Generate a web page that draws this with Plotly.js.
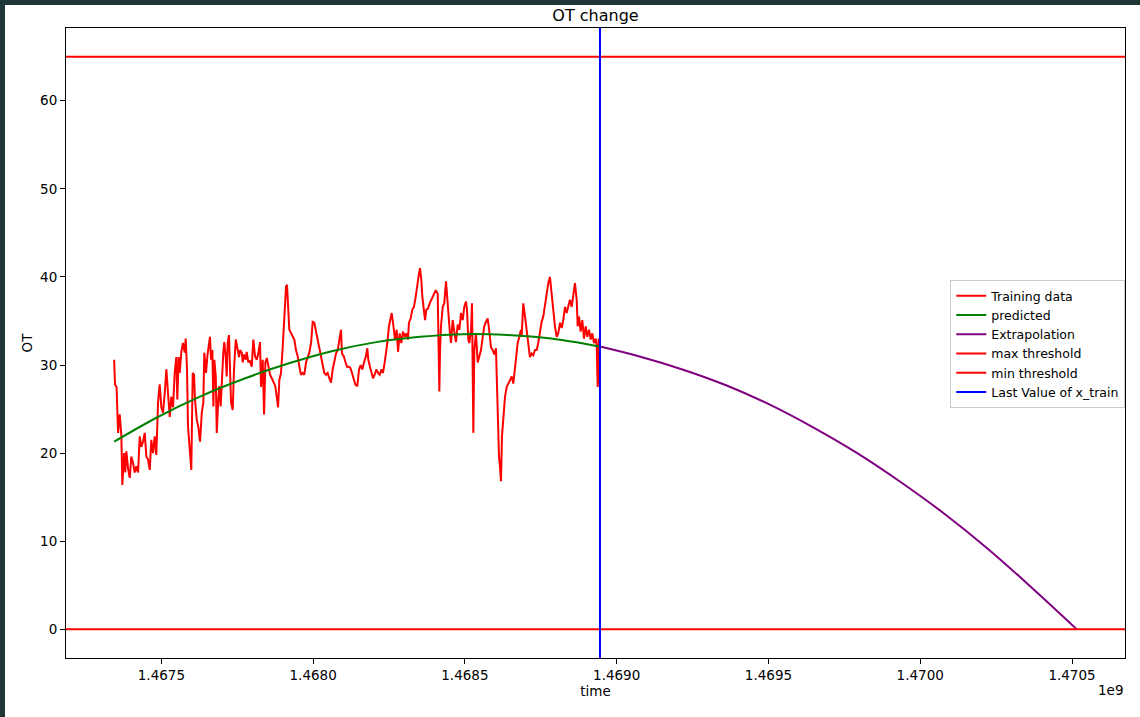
<!DOCTYPE html>
<html>
<head>
<meta charset="utf-8">
<script src="https://cdn.plot.ly/plotly-3.0.1.min.js"></script>
<style>
  html, body { margin: 0; padding: 0; background: #1e3636; width: 1140px; height: 717px; overflow: hidden; }
  #chart { position: absolute; left: 5px; top: 5px; width: 1135px; height: 712px; background: #ffffff; }
</style>
</head>
<body>
<div id="chart"></div>
<script>
// Time origin (unix seconds) of the first training sample; samples are given as hours after it
const startEpoch = 1467344400;

// Training data: hours after start, and OT values
const trainHours = [
  0, 0.8, 2.2, 3.6, 5.1, 6.6, 7.5, 9.1, 10.2, 11.2,
  12.7, 14.3, 15.7, 17.3, 18.8, 20.3, 21.9, 23.4, 24.9, 26.4,
  28.0, 29.5, 31.0, 32.6, 34.0, 35.6, 37.1, 38.6, 40.2, 41.7,
  43.2, 44.7, 46.3, 47.8, 49.3, 50.9, 52.3, 53.9, 55.4, 56.9,
  57.8, 59.1, 60.0, 61.5, 63.0, 64.6, 65.5, 66.7, 67.6, 69.2,
  70.6,
  71.9, 73.1, 74.0, 75.6, 77.0, 78.6, 80.2, 81.6, 82.5, 84.1,
  85.3, 86.8, 87.7, 88.7, 89.9, 90.8, 91.7, 93.0, 93.9, 95.3,
  96.3, 97.5, 99.0, 99.9, 100.8, 102.1, 103.0, 103.9, 105.1, 106.0,
  107.0, 108.5, 109.7, 111.3, 112.7, 114.3, 115.2, 116.8, 117.7, 118.9,
  120.4, 121.3, 122.8, 124.3, 125.9, 127.4, 128.9, 130.5, 131.9, 133.5,
  134.4, 136.0, 137.2, 138.4, 139.7, 141.1, 142.7, 144.3, 145.7,
  147.5, 149.1, 150.0, 151.2, 152.7, 154.3, 155.7, 157.3, 158.2, 159.1,
  160.3, 161.9, 163.4, 164.9, 166.4, 168.0, 169.5, 171.0, 172.6, 174.0,
  175.6, 177.1, 178.6, 180.2, 181.7, 183.2, 184.7, 186.3, 187.8, 189.3,
  190.9, 192.3, 193.9, 195.4, 196.9, 198.5, 200.0, 201.5, 203.0, 204.6,
  206.1, 207.6, 208.5, 210.1, 211.5, 213.1, 214.7, 216.1, 217.7, 219.2,
  220.7,
  222.5, 224.1, 225.6, 227.1, 228.7, 230.2, 231.7, 232.6, 234.1, 235.3,
  236.9, 238.4, 239.9, 241.5, 243.0, 244.5, 246.0, 247.6, 249.1, 250.0,
  251.5, 253.1, 254.0, 255.2, 256.1, 257.0, 258.6, 259.8, 261.3, 262.8,
  264.3, 265.9, 267.4, 268.9, 269.8, 271.4, 272.9, 274.4, 276.0, 277.4,
  279.0, 279.9, 281.1, 282.0, 282.9, 284.5, 285.7, 287.2, 288.8, 290.2,
  291.8, 293.3, 294.3,
  296.1, 296.6, 297.6, 298.2, 299.1, 300.7, 302.1, 303.7, 304.6, 306.2,
  307.3, 308.3, 309.8, 311.3, 312.8, 314.4, 315.9, 317.4, 319.0, 320.4,
  322.0, 322.9, 324.1, 325.0, 326.6, 327.5, 328.7, 329.6, 331.1, 332.7,
  334.2, 335.7, 337.3, 338.7, 340.3, 341.8, 342.8, 343.9, 344.9, 346.4,
  347.9, 349.4, 350.4, 351.3, 352.2, 353.1, 354.0, 354.9, 356.1, 357.7,
  359.2, 360.7, 362.2, 363.8, 365.3, 366.8, 367.7, 369.3, 370.8, 372.3,
  372.9, 374.4, 376.0, 377.5, 379.0, 380.5, 382.1, 383.6, 385.1, 386.7,
  388.1, 389.7, 391.2, 392.7, 394.3, 395.8, 397.3, 398.8, 400.4, 401.9,
  403.4, 405.0, 406.4, 408.0, 409.6, 411.0, 412.6, 414.1, 415.6, 417.1,
  418.7, 420.2, 421.7, 423.3, 424.2, 425.4, 426.9, 428.4, 430.0, 431.5,
  433.0, 434.6, 436.1, 437.6, 439.1, 440.7, 441.6, 442.5, 443.4, 444.6
];
const trainOT = [
  30.6, 27.8, 27.5, 22.3, 24.4, 22.0, 16.4, 20.0, 17.8, 20.2,
  18.3, 17.2, 19.6, 18.9, 17.8, 18.5, 17.8, 21.9, 20.7, 21.3,
  22.3, 19.6, 19.3, 18.1, 21.5, 20.0, 21.9, 19.8, 25.8, 27.8,
  25.2, 24.6, 26.8, 29.5, 26.8, 24.1, 26.4, 25.2, 29.1, 30.9,
  26.1, 30.9, 29.1, 31.5, 32.5, 31.4, 33.0, 29.5, 23.0, 20.4,
  18.1,
  29.1, 28.9, 26.1, 23.8, 23.0, 21.3, 24.6, 25.7, 31.4, 29.1,
  31.0, 32.1, 33.2, 30.6, 31.7, 25.3, 30.6, 28.7, 22.3, 26.1,
  27.6, 25.3, 29.5, 31.4, 32.6, 30.9, 28.7, 32.5, 33.4, 30.6,
  25.7, 24.9, 29.5, 32.9, 31.9, 30.9, 31.7, 31.4, 30.3, 31.2,
  30.6, 31.5, 30.3, 30.5, 29.8, 32.9, 31.0, 30.6, 31.3, 32.6,
  27.5, 30.6, 24.4, 30.3, 30.8, 29.7, 28.9, 28.5, 28.0,
  27.6, 26.1, 25.2, 28.3, 29.1, 32.1, 35.9, 38.9, 39.1, 37.4,
  34.0, 33.6, 33.2, 32.9, 31.7, 31.0, 29.8, 28.9, 29.1, 28.9,
  30.3, 30.8, 31.4, 32.5, 34.9, 34.8, 33.8, 32.9, 31.7, 31.0,
  29.8, 29.1, 28.9, 29.1, 28.5, 28.0, 29.5, 30.6, 31.3, 31.7,
  32.9, 34.0, 31.3, 31.0, 30.4, 29.8, 29.8, 29.7, 29.1, 28.3,
  27.8,
  27.6, 29.5, 30.0, 29.5, 30.3, 30.9, 31.9, 30.6, 29.8, 29.1,
  28.5, 28.9, 29.5, 29.1, 28.9, 29.5, 29.1, 30.3, 31.4, 32.5,
  34.4, 35.7, 35.9, 34.8, 33.6, 32.9, 34.0, 31.5, 33.6, 32.5,
  33.8, 33.2, 33.6, 32.9, 34.8, 35.3, 36.3, 36.6, 37.8, 39.3,
  40.4, 41.0, 39.7, 37.8, 36.6, 35.1, 36.3, 36.4, 37.0, 37.4,
  37.8, 38.2, 38.5,
  38.1, 34.0, 27.0, 31.5, 34.4, 36.6, 37.0, 39.5, 37.8, 35.9,
  33.6, 32.5, 35.1, 33.8, 32.6, 34.6, 34.0, 35.9, 35.1, 36.6,
  37.2, 36.3, 32.9, 32.5, 34.0, 37.0, 22.3, 31.7, 33.6, 30.3,
  31.0, 31.7, 33.2, 34.4, 34.9, 35.3, 34.4, 32.9, 32.0, 31.7,
  31.2, 31.9, 26.1, 23.8, 19.6, 18.5, 16.8, 21.9, 23.8, 26.4,
  27.5, 27.9, 28.3, 28.7, 27.9, 29.8, 30.6, 32.5, 33.2, 34.0,
  33.2, 37.0, 35.5, 34.0, 32.1, 30.9, 31.3, 31.1, 31.7, 31.7,
  32.5, 34.0, 34.9, 35.5, 37.0, 38.2, 39.3, 40.0, 38.2, 35.9,
  34.4, 33.2, 33.6, 34.8, 34.2, 35.1, 36.6, 35.9, 36.8, 37.4,
  36.6, 38.3, 39.3, 37.4, 34.4, 35.5, 33.8, 35.1, 33.0, 34.4,
  33.2, 34.0, 32.9, 33.6, 32.5, 33.0, 32.1, 27.5, 33.0, 27.5
];

// Fitted curve over the training period
const predHours = [0, 40, 80, 120, 160, 200, 240, 280, 320, 360, 400, 440, 444.6];
const predOT    = [21.3, 24.1, 26.5, 28.5, 30.2, 31.6, 32.6, 33.2, 33.5, 33.4, 33.0, 32.2, 32.1];

// Extrapolated curve after the training period
const extraHours = [444.6, 480, 520, 560, 600, 640, 680, 720, 760, 800, 840, 881];
const extraOT    = [32.1, 31.0, 29.5, 27.7, 25.5, 22.9, 20.0, 16.7, 13.1, 9.1, 4.7, 0.0];

const maxThreshold = 65;
const minThreshold = 0;

const xTickVals = [1467500000, 1468000000, 1468500000, 1469000000, 1469500000, 1470000000, 1470500000];
const xTickText = ['1.4675', '1.4680', '1.4685', '1.4690', '1.4695', '1.4700', '1.4705'];
const yTickVals = [0, 10, 20, 30, 40, 50, 60];

const toEpoch = h => startEpoch + h * 3600;
const n = Math.min(trainHours.length, trainOT.length);
const tx = trainHours.slice(0, n).map(toEpoch);
const ty = trainOT.slice(0, n);
const px = predHours.map(toEpoch);
const ex = extraHours.map(toEpoch);
const lastTrain = tx[tx.length - 1];

// matplotlib-style 5% margins
const allX = tx.concat(px, ex);
const xmin = Math.min(...allX), xmax = Math.max(...allX);
const xpad = (xmax - xmin) * 0.05;
const xr = [xmin - xpad, xmax + xpad];
const allY = ty.concat(predOT, extraOT, [maxThreshold, minThreshold]);
const ymin = Math.min(...allY), ymax = Math.max(...allY);
const ypad = (ymax - ymin) * 0.05;
const yr = [ymin - ypad, ymax + ypad];

const font = {family: 'DejaVu Sans, sans-serif', size: 13.5, color: '#000000'};

const traces = [
  {x: tx, y: ty, name: 'Training data', mode: 'lines', line: {color: '#ff0000', width: 2}},
  {x: px, y: predOT, name: 'predicted', mode: 'lines', line: {color: '#008000', width: 2, shape: 'spline'}},
  {x: ex, y: extraOT, name: 'Extrapolation', mode: 'lines', line: {color: '#800080', width: 2, shape: 'spline'}},
  {x: xr, y: [maxThreshold, maxThreshold], name: 'max threshold', mode: 'lines', line: {color: '#ff0000', width: 2}},
  {x: xr, y: [minThreshold, minThreshold], name: 'min threshold', mode: 'lines', line: {color: '#ff0000', width: 2}},
  {x: [lastTrain, lastTrain], y: yr, name: 'Last Value of x_train', mode: 'lines', line: {color: '#0000ff', width: 2}}
];

const layout = {
  width: 1135, height: 712,
  margin: {l: 61, r: 15, t: 23, b: 59},
  paper_bgcolor: '#ffffff', plot_bgcolor: '#ffffff',
  font: font,
  title: {text: 'OT change', font: {family: 'DejaVu Sans, sans-serif', size: 16, color: '#000'},
          x: 0.5, xref: 'paper', xanchor: 'center', y: 0.985, yref: 'container', yanchor: 'middle'},
  showlegend: true,
  legend: {x: 0.835, y: 0.600, xanchor: 'left', yanchor: 'top', bgcolor: 'rgba(255,255,255,0.8)',
           bordercolor: '#cccccc', borderwidth: 1, font: {family: 'DejaVu Sans, sans-serif', size: 12.5, color: '#000'},
           tracegroupgap: 0, itemwidth: 30},
  xaxis: {
    range: xr, showgrid: false, zeroline: false,
    showline: true, mirror: true, linecolor: '#000', linewidth: 1,
    ticks: 'outside', ticklen: 5, tickwidth: 1, tickcolor: '#000',
    tickvals: xTickVals, ticktext: xTickText,
    title: {text: 'time', font: font, standoff: 4}
  },
  yaxis: {
    range: yr, showgrid: false, zeroline: false,
    showline: true, mirror: true, linecolor: '#000', linewidth: 1,
    ticks: 'outside', ticklen: 5, tickwidth: 1, tickcolor: '#000',
    tickvals: yTickVals,
    title: {text: 'OT', font: font, standoff: 4}
  },
  annotations: [
    {text: '1e9', xref: 'paper', yref: 'paper', x: 1.0, y: 0, xanchor: 'right', yanchor: 'top',
     yshift: -22, showarrow: false, font: font}
  ]
};

Plotly.newPlot('chart', traces, layout, {displayModeBar: false, staticPlot: true});
</script>
</body>
</html>
